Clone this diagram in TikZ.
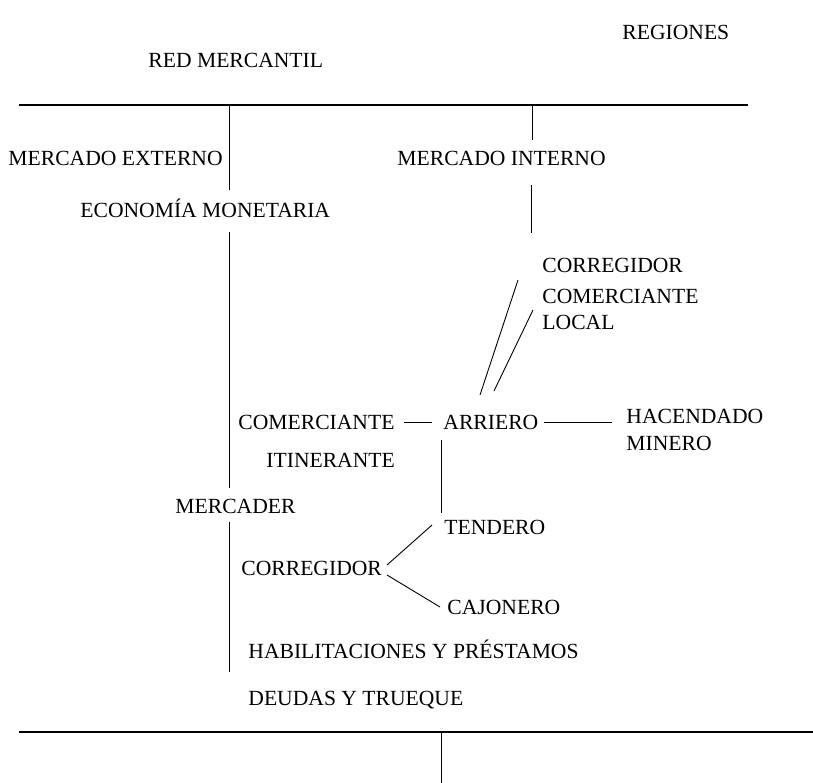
\documentclass[tikz,border=0pt]{standalone}
\usepackage{fontspec}
\setmainfont{Liberation Serif}
\begin{document}
\begin{tikzpicture}[x=1pt,y=-1pt,line width=0.9pt,
  lbl/.style={anchor=base west,inner sep=0pt,font=\fontsize{21.6}{23}\selectfont}]
\useasboundingbox (0,0) rectangle (813,783);
% upper part
\node[lbl] (regiones) at (622,40) {REGIONES};
\node[lbl] (red) at (148,68) {RED MERCANTIL};
\coordinate (topL) at (19,105);
\coordinate (topR) at (748,105);
\draw[line width=1.3pt] (topL) -- (topR);
\node[lbl] (mext) at (8,166) {MERCADO EXTERNO};
\node[lbl] (mint) at (397,166) {MERCADO INTERNO};
\node[lbl] (eco) at (80,218) {ECONOM\'IA MONETARIA};
\coordinate (ext1) at (229,105);
\coordinate (ext2) at (229,190);
\draw (ext1) -- (ext2);
\coordinate (int1) at (532,105);
\coordinate (int2) at (532,140);
\draw (int1) -- (int2);
\coordinate (int3) at (531,185);
\coordinate (int4) at (531,233);
\draw (int3) -- (int4);
% local traders
\node[lbl] (corrloc) at (542,273) {CORREGIDOR};
\node[lbl] (comloc) at (542,304) {COMERCIANTE};
\node[lbl] (local) at (542,330) {LOCAL};
\coordinate (da1) at (518,280);
\coordinate (da2) at (480,395);
\coordinate (db1) at (533,310);
\coordinate (db2) at (494,391);
\draw (da1) -- (da2);
\draw (db1) -- (db2);
% middle row
\node[lbl] (comit) at (238,429) {COMERCIANTE};
\node[lbl] (itin) at (266,467) {ITINERANTE};
\node[lbl] (arriero) at (443,429) {ARRIERO};
\node[lbl] (hac) at (626,423) {HACENDADO};
\node[lbl] (min) at (626,450) {MINERO};
\draw ([xshift=9pt,yshift=7pt]comit.base east) -- ([xshift=-11pt,yshift=7pt]arriero.base west);
\draw ([xshift=5pt,yshift=7pt]arriero.base east) -- ([xshift=-14pt,yshift=1pt]hac.base west);
\coordinate (arr1) at (441,440);
\coordinate (arr2) at (441,513);
\draw (arr1) -- (arr2);
% mercader column
\coordinate (m1) at (229,232);
\coordinate (m2) at (229,488);
\draw (m1) -- (m2);
\node[lbl] (merc) at (175,513) {MERCADER};
\coordinate (m3) at (229,522);
\coordinate (m4) at (229,672);
\draw (m3) -- (m4);
\node[lbl] (tend) at (444,534) {TENDERO};
\node[lbl] (corr) at (241,575) {CORREGIDOR};
\node[lbl] (caj) at (447,614) {CAJONERO};
\coordinate (c0) at (387,565);
\coordinate (c1) at (432,525);
\coordinate (c2) at (387,575);
\coordinate (c3) at (440,607);
\draw (c0) -- (c1);
\draw (c2) -- (c3);
\node[lbl] (hab) at (248,658) {HABILITACIONES Y PR\'ESTAMOS};
\node[lbl] (deu) at (248,705) {DEUDAS Y TRUEQUE};
% lower part
\coordinate (botL) at (19,732);
\coordinate (botR) at (813,732);
\draw[line width=1.3pt] (botL) -- (botR);
\coordinate (b1) at (441,732);
\coordinate (b2) at (441,783);
\draw (b1) -- (b2);
\end{tikzpicture}
\end{document}
